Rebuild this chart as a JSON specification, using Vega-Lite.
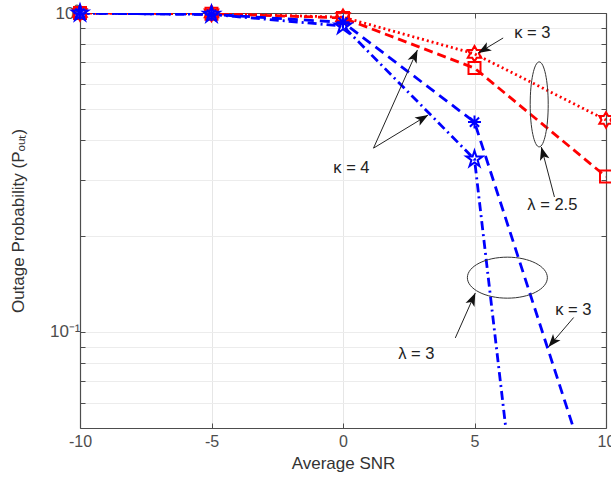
{
  "$schema": "https://vega.github.io/schema/vega-lite/v6.json",
  "width": 526,
  "height": 415,
  "autosize": {"type": "none"},
  "padding": {"left": 80, "top": 13, "right": 5, "bottom": 57},
  "background": "white",
  "config": {"view": {"stroke": null}, "font": "Liberation Sans"},
  "datasets": {
    "series": [
      {"s": "k3l25", "x": -10, "p": 1.0},
      {"s": "k3l25", "x": -5, "p": 0.997},
      {"s": "k3l25", "x": 0, "p": 0.97},
      {"s": "k3l25", "x": 5, "p": 0.745},
      {"s": "k3l25", "x": 10, "p": 0.462},
      {"s": "k4l25", "x": -10, "p": 1.0},
      {"s": "k4l25", "x": -5, "p": 0.995},
      {"s": "k4l25", "x": 0, "p": 0.965},
      {"s": "k4l25", "x": 5, "p": 0.672},
      {"s": "k4l25", "x": 10, "p": 0.307},
      {"s": "k3l3", "x": -10, "p": 0.999},
      {"s": "k3l3", "x": -5, "p": 0.99},
      {"s": "k3l3", "x": 0, "p": 0.935},
      {"s": "k3l3", "x": 5, "p": 0.455},
      {"s": "k3l3", "x": 10, "p": 0.0242},
      {"s": "k4l3", "x": -10, "p": 0.999},
      {"s": "k4l3", "x": -5, "p": 0.99},
      {"s": "k4l3", "x": 0, "p": 0.91},
      {"s": "k4l3", "x": 5, "p": 0.348},
      {"s": "k4l3", "x": 10, "p": 0.0001}
    ],
    "arrows": [
      {"id": "a1", "x": 6.09, "p": 0.835}, {"id": "a1", "x": 5.14, "p": 0.749},
      {"id": "a2", "x": 8.04, "p": 0.265}, {"id": "a2", "x": 7.54, "p": 0.38},
      {"id": "a3", "x": 1.16, "p": 0.377}, {"id": "a3", "x": 2.83, "p": 0.766},
      {"id": "a4", "x": 1.16, "p": 0.377}, {"id": "a4", "x": 3.24, "p": 0.479},
      {"id": "a5", "x": 4.27, "p": 0.0958}, {"id": "a5", "x": 5.03, "p": 0.1325},
      {"id": "a6", "x": 8.77, "p": 0.111}, {"id": "a6", "x": 7.81, "p": 0.0897}
    ],
    "heads": [
      {"id": "a1", "x": 5.14, "p": 0.749},
      {"id": "a2", "x": 7.54, "p": 0.38},
      {"id": "a3", "x": 2.83, "p": 0.766},
      {"id": "a4", "x": 3.24, "p": 0.479},
      {"id": "a5", "x": 5.03, "p": 0.1325},
      {"id": "a6", "x": 7.81, "p": 0.0897}
    ],
    "ellipses": [
      {"id": "e1", "x": 7.46, "p": 0.517},
      {"id": "e2", "x": 6.25, "p": 0.148}
    ],
    "labels": [
      {"t": "κ = 3", "x": 7.2, "p": 0.866},
      {"t": "λ = 2.5", "x": 7.96, "p": 0.25},
      {"t": "κ = 4", "x": 0.32, "p": 0.327},
      {"t": "λ = 3", "x": 2.79, "p": 0.0853},
      {"t": "κ = 3", "x": 8.76, "p": 0.117}
    ]
  },
  "resolve": {"axis": {"x": "independent", "y": "independent"}, "scale": {"shape": "independent", "size": "independent"}},
  "layer": [
    {
      "data": {"name": "series"},
      "mark": {"type": "line", "strokeWidth": 2.8, "clip": true},
      "encoding": {
        "x": {"field": "x", "type": "quantitative",
          "scale": {"domain": [-10, 10], "nice": false, "zero": false},
          "axis": {"values": [-10, -5, 0, 5, 10], "grid": true, "gridColor": "#e6e6e6", "tickSize": -5, "tickColor": "#4d4d4d", "domainColor": "#4d4d4d", "domainWidth": 1.2, "labelFontSize": 16, "labelColor": "#4d4d4d", "labelPadding": 10, "labelFlush": false, "labelOverlap": false, "labelExpr": "datum.value + ''", "title": "Average SNR", "titleFontSize": 17, "titleFontWeight": "normal", "titleColor": "#333333", "titlePadding": 6}},
        "y": {"field": "p", "type": "quantitative",
          "scale": {"type": "log", "domain": [0.05, 1], "nice": false},
          "axis": {"values": [0.06, 0.07, 0.08, 0.09, 0.1, 0.2, 0.3, 0.4, 0.5, 0.6, 0.7, 0.8, 0.9, 1], "grid": true, "gridColor": "#ececec", "tickSize": -5, "tickColor": "#4d4d4d", "domainColor": "#4d4d4d", "domainWidth": 1.2, "labelFontSize": 17, "labelColor": "#4d4d4d", "labelPadding": 5, "labelOverlap": false, "labelFlush": false, "labelExpr": "datum.value == 1 ? '10⁰' : (datum.value == 0.1 ? '10⁻¹' : '')", "title": "Outage Probability (Pₒᵤₜ)", "titleFontSize": 17, "titleFontWeight": "normal", "titleColor": "#333333", "titlePadding": 22}},
        "color": {"field": "s", "type": "nominal", "scale": {"domain": ["k3l25", "k4l25", "k3l3", "k4l3"], "range": ["#ff0000", "#ff0000", "#0000ff", "#0000ff"]}, "legend": null},
        "strokeDash": {"field": "s", "type": "nominal", "scale": {"domain": ["k3l25", "k4l25", "k3l3", "k4l3"], "range": [[2, 3], [9, 5], [10, 6], [9, 4, 2, 4]]}, "legend": null}
      }
    },
    {
      "data": {"name": "series"},
      "transform": [{"filter": "datum.p >= 0.05"}],
      "mark": {"type": "point", "filled": false, "strokeWidth": 2, "opacity": 1},
      "encoding": {
        "x": {"field": "x", "type": "quantitative", "scale": {"domain": [-10, 10], "nice": false, "zero": false},
          "axis": {"orient": "top", "values": [-10, -5, 0, 5, 10], "labels": false, "grid": false, "tickSize": -5, "tickColor": "#4d4d4d", "domainColor": "#4d4d4d", "domainWidth": 1.2, "title": null}},
        "y": {"field": "p", "type": "quantitative", "scale": {"type": "log", "domain": [0.05, 1], "nice": false},
          "axis": {"orient": "right", "values": [0.06, 0.07, 0.08, 0.09, 0.1, 0.2, 0.3, 0.4, 0.5, 0.6, 0.7, 0.8, 0.9, 1], "labels": false, "grid": false, "tickSize": -5, "tickColor": "#4d4d4d", "domainColor": "#4d4d4d", "domainWidth": 1.2, "title": null}},
        "color": {"field": "s", "type": "nominal", "scale": {"domain": ["k3l25", "k4l25", "k3l3", "k4l3"], "range": ["#ff0000", "#ff0000", "#0000ff", "#0000ff"]}, "legend": null},
        "shape": {"field": "s", "type": "nominal", "scale": {"domain": ["k3l25", "k4l25", "k3l3", "k4l3"], "range": [
          "M0,-1L0.289,-0.5L0.866,-0.5L0.577,0L0.866,0.5L0.289,0.5L0,1L-0.289,0.5L-0.866,0.5L-0.577,0L-0.866,-0.5L-0.289,-0.5Z",
          "M-1,-1L1,-1L1,1L-1,1Z",
          "M0,-1L0,1M-1,0L1,0M-0.707,-0.707L0.707,0.707M-0.707,0.707L0.707,-0.707",
          "M0,-1L0.225,-0.309L0.951,-0.309L0.363,0.118L0.588,0.809L0,0.382L-0.588,0.809L-0.363,0.118L-0.951,-0.309L-0.225,-0.309Z"
        ]}, "legend": null},
        "size": {"field": "s", "type": "ordinal", "scale": {"type": "ordinal", "domain": ["k3l25", "k4l25", "k3l3", "k4l3"], "range": [240, 144, 169, 289]}, "legend": null}
      }
    },
    {
      "data": {"name": "arrows"},
      "mark": {"type": "line", "color": "#222222", "strokeWidth": 1},
      "encoding": {
        "x": {"field": "x", "type": "quantitative", "scale": {"domain": [-10, 10], "nice": false, "zero": false}, "axis": null},
        "y": {"field": "p", "type": "quantitative", "scale": {"type": "log", "domain": [0.05, 1], "nice": false}, "axis": null},
        "detail": {"field": "id", "type": "nominal"}
      }
    },
    {
      "data": {"name": "heads"},
      "mark": {"type": "point", "filled": true, "color": "#111111", "opacity": 1, "strokeWidth": 0, "shape": "M0,0L-0.75,2L0,1.5L0.75,2Z", "size": 170},
      "encoding": {
        "x": {"field": "x", "type": "quantitative", "scale": {"domain": [-10, 10], "nice": false, "zero": false}, "axis": null},
        "y": {"field": "p", "type": "quantitative", "scale": {"type": "log", "domain": [0.05, 1], "nice": false}, "axis": null},
        "angle": {"field": "id", "type": "ordinal", "scale": {"type": "ordinal", "domain": ["a1", "a2", "a3", "a4", "a5", "a6"], "range": [239, 345, 24, 59, 24, 220]}, "legend": null}
      }
    },
    {
      "data": {"name": "ellipses"},
      "mark": {"type": "point", "filled": false, "color": "#333333", "opacity": 1, "strokeWidth": 1},
      "encoding": {
        "x": {"field": "x", "type": "quantitative", "scale": {"domain": [-10, 10], "nice": false, "zero": false}, "axis": null},
        "y": {"field": "p", "type": "quantitative", "scale": {"type": "log", "domain": [0.05, 1], "nice": false}, "axis": null},
        "shape": {"field": "id", "type": "nominal", "scale": {"domain": ["e1", "e2"], "range": [
          "M0.212,0C0.212,0.552,0.117,1,0,1C-0.117,1,-0.212,0.552,-0.212,0C-0.212,-0.552,-0.117,-1,0,-1C0.117,-1,0.212,-0.552,0.212,0Z",
          "M1,0C1,0.283,0.552,0.5125,0,0.5125C-0.552,0.5125,-1,0.283,-1,0C-1,-0.283,-0.552,-0.5125,0,-0.5125C0.552,-0.5125,1,-0.283,1,0Z"
        ]}, "legend": null},
        "size": {"field": "id", "type": "ordinal", "scale": {"type": "ordinal", "domain": ["e1", "e2"], "range": [7225, 6400]}, "legend": null}
      }
    },
    {
      "data": {"name": "labels"},
      "mark": {"type": "text", "fontSize": 16.5, "color": "#222222", "align": "center", "baseline": "middle"},
      "encoding": {
        "x": {"field": "x", "type": "quantitative", "scale": {"domain": [-10, 10], "nice": false, "zero": false}, "axis": null},
        "y": {"field": "p", "type": "quantitative", "scale": {"type": "log", "domain": [0.05, 1], "nice": false}, "axis": null},
        "text": {"field": "t"}
      }
    }
  ]
}
